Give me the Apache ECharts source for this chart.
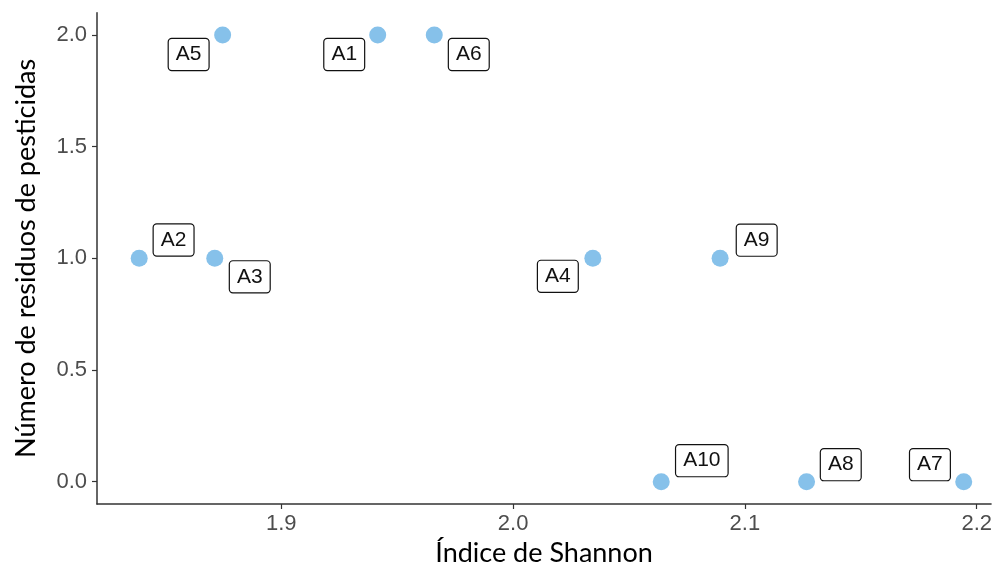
<!DOCTYPE html>
<html>
<head>
<meta charset="utf-8">
<script src="https://cdn.jsdelivr.net/npm/echarts@6/dist/echarts.min.js"></script>
<style>
html,body{margin:0;padding:0;background:#fff;}
#chart{width:995px;height:578px;}
</style>
</head>
<body>
<div id="chart"></div>
<script>
// ---- data ----
var sampleNames = ['A1','A2','A3','A4','A5','A6','A7','A8','A9','A10'];
var shannonIndex = [1.9416, 1.8387, 1.8713, 2.0344, 1.8747, 1.9660, 2.1944, 2.1266, 2.0893, 2.0639];
var pesticideResidues = [2, 1, 1, 1, 2, 2, 0, 0, 1, 0];
var xTickValues = [1.9, 2.0, 2.1, 2.2];
var yTickValues = [0, 0.5, 1.0, 1.5, 2.0];

// ---- label nudges (layout only, px) ----
var labelNudges = [
  [-33.5, 19.5], [34.4, -18.3], [35, 18.5], [-35, 18], [-34, 19.5],
  [34.5, 19.5], [-33.8, -17], [34.2, -17], [36.6, -18.2], [40.6, -21]
];

var points = sampleNames.map(function (n, i) {
  return {
    name: n,
    value: [shannonIndex[i], pesticideResidues[i]],
    label: { offset: labelNudges[i] }
  };
});

var axisColor = '#333333';
var tickLabelStyle = {
  color: '#4d4d4d',
  fontFamily: '"Liberation Sans", Arial, sans-serif',
  fontSize: 22
};

var chart = echarts.init(document.getElementById('chart'), null, { renderer: 'canvas' });
chart.setOption({
  animation: false,
  backgroundColor: '#ffffff',
  grid: { left: 97, right: 2, top: 12.7, bottom: 74, containLabel: false },
  xAxis: {
    type: 'value',
    min: 1.8205,
    max: 2.2062,
    name: 'Índice de Shannon',
    nameLocation: 'middle',
    nameGap: 36,
    nameTextStyle: { color: '#000', fontFamily: 'Lato, "Open Sans", sans-serif', fontSize: 27 },
    axisLine: { show: true, onZero: false, lineStyle: { color: axisColor, width: 1.5 } },
    axisTick: { show: true, length: 5, lineStyle: { color: axisColor, width: 1.2 }, customValues: xTickValues },
    axisLabel: Object.assign({ margin: 9, customValues: xTickValues,
      formatter: function (v) { return v.toFixed(1); } }, tickLabelStyle),
    splitLine: { show: false }
  },
  yAxis: {
    type: 'value',
    min: -0.1,
    max: 2.1,
    name: 'Número de residuos de pesticidas',
    nameLocation: 'middle',
    nameGap: 57,
    nameRotate: 90,
    nameTextStyle: { color: '#000', fontFamily: 'Lato, "Open Sans", sans-serif', fontSize: 27 },
    axisLine: { show: true, onZero: false, lineStyle: { color: axisColor, width: 1.5 } },
    axisTick: { show: true, length: 5, lineStyle: { color: axisColor, width: 1.2 }, customValues: yTickValues },
    axisLabel: Object.assign({ margin: 10, customValues: yTickValues,
      formatter: function (v) { return v.toFixed(1); } }, tickLabelStyle),
    splitLine: { show: false }
  },
  series: [{
    type: 'scatter',
    symbol: 'circle',
    symbolSize: 17,
    itemStyle: { color: '#86c1ea', opacity: 1 },
    data: points,
    label: {
      show: true,
      position: 'inside',
      formatter: '{b}',
      color: '#111',
      fontFamily: '"Liberation Sans", Arial, sans-serif',
      fontSize: 21,
      lineHeight: 23,
      backgroundColor: '#ffffff',
      borderColor: '#111',
      borderWidth: 1.2,
      borderRadius: 3,
      padding: [4, 7, 4, 7]
    },
    emphasis: { disabled: true }
  }]
});
</script>
</body>
</html>
